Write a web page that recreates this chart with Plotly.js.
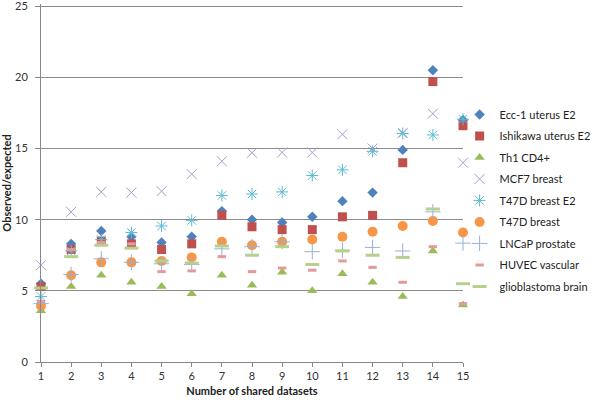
<!DOCTYPE html>
<html>
<head>
<meta charset="utf-8">
<script src="https://cdn.plot.ly/plotly-3.0.1.min.js"></script>
<style>html,body{margin:0;padding:0;background:#fff;}#chart{width:600px;height:402px;}</style>
</head>
<body>
<div id="chart"></div>
<script>
var datasets = [1, 2, 3, 4, 5, 6, 7, 8, 9, 10, 11, 12, 13, 14, 15];
var seriesNames = ["Ecc-1 uterus E2", "Ishikawa uterus E2", "Th1 CD4+", "MCF7 breast", "T47D breast E2", "T47D breast", "LNCaP prostate", "HUVEC vascular", "glioblastoma brain"];
var ecc1 = [5.5, 8.3, 9.2, 8.8, 8.4, 8.8, 10.6, 10.0, 9.8, 10.2, 11.3, 11.9, 14.9, 20.5, 17.0];
var ishikawa = [5.3, 7.9, 8.5, 8.3, 7.9, 8.3, 10.3, 9.5, 9.3, 9.3, 10.2, 10.3, 14.0, 19.7, 16.6];
var th1 = [3.6, 5.3, 6.1, 5.6, 5.3, 4.8, 6.1, 5.4, 6.3, 5.0, 6.2, 5.6, 4.6, 7.8, 4.0];
var mcf7 = [6.8, 10.55, 11.95, 11.9, 12.0, 13.2, 14.1, 14.7, 14.72, 14.72, 16.0, 15.0, 16.1, 17.45, 14.0];
var t47dE2 = [4.6, 7.8, 8.6, 9.1, 9.55, 9.95, 11.7, 11.8, 11.95, 13.1, 13.5, 14.8, 16.05, 15.95, 17.05];
var t47d = [3.95, 6.1, 7.0, 7.0, 7.1, 7.35, 8.45, 8.2, 8.45, 8.6, 8.8, 9.15, 9.55, 9.9, 9.1];
var lncap = [4.1, 6.15, 7.25, 7.0, 6.9, 6.85, 7.95, 8.1, 8.45, 7.75, 7.85, 8.05, 7.8, 10.55, 8.35];
var huvec = [4.25, 7.9, 8.4, 8.3, 6.35, 6.4, 7.4, 6.35, 6.6, 6.45, 7.1, 6.65, 5.6, 8.1, 4.1];
var glio = [5.2, 7.4, 8.2, 8.0, 7.1, 6.95, 8.15, 7.5, 8.1, 6.85, 7.8, 7.5, 7.35, 10.75, 5.5];

var values = [ecc1, ishikawa, th1, mcf7, t47dE2, t47d, lncap, huvec, glio];
var markers = [
  {symbol: "diamond", size: 8, color: "#4F81BD"},
  {symbol: "square", size: 9, color: "#C0504D"},
  {symbol: "triangle-up", size: 9, color: "#9BBB59"},
  {symbol: "x-thin-open", size: 10, color: "#A99BCB", line: {width: 1, color: "#A99BCB"}},
  {symbol: "asterisk-open", size: 10, color: "#5BBBD3", line: {width: 1, color: "#5BBBD3"}},
  {symbol: "circle", size: 10, color: "#F79646"},
  {symbol: "cross-thin-open", size: 11, color: "#95B3D7", line: {width: 1, color: "#95B3D7"}},
  {symbol: "line-ew-open", size: 6, color: "#E39A9A", line: {width: 3, color: "#E39A9A"}},
  {symbol: "line-ew-open", size: 10, color: "#B8D08E", line: {width: 3, color: "#B8D08E"}}
];

var traces = seriesNames.map(function (name, i) {
  return {
    type: "scatter", mode: "markers", name: name,
    x: datasets, y: values[i], marker: markers[i],
    legendgroup: "g" + i, cliponaxis: false
  };
});

var layout = {
  width: 600, height: 402,
  margin: {l: 41, r: 130, t: 4, b: 40},
  paper_bgcolor: "#fff", plot_bgcolor: "#fff",
  font: {family: "Lato, 'Liberation Sans', sans-serif", size: 11, color: "#333"},
  showlegend: true,
  legend: {x: 0.992, xanchor: "left", y: 0.732, yanchor: "top", tracegroupgap: 2.5,
           font: {size: 11, color: "#222"}, bgcolor: "rgba(0,0,0,0)"},
  xaxis: {
    range: [1, 15], dtick: 1, tick0: 1, showgrid: false, zeroline: false,
    showline: true, linecolor: "#888", linewidth: 1,
    ticks: "outside", ticklen: 4, tickcolor: "#888",
    tickfont: {size: 11, color: "#333"},
    title: {text: "<b>Number of shared datasets</b>", font: {size: 11, color: "#222"}, standoff: 6}
  },
  yaxis: {
    range: [0, 25.15], tickvals: [0, 5, 10, 15, 20, 25], showgrid: true, gridcolor: "#8c8c8c", gridwidth: 1,
    zeroline: false, showline: true, linecolor: "#888", linewidth: 1,
    ticks: "outside", ticklen: 5, tickcolor: "#888", ticklabelstandoff: 5,
    ticklabeloverflow: "allow",
    tickfont: {size: 11, color: "#333"},
    title: {text: "<b>Observed/expected</b>", font: {size: 11, color: "#222"}, standoff: 10}
  }
};

Plotly.newPlot("chart", traces, layout, {staticPlot: true});
</script>
</body>
</html>
